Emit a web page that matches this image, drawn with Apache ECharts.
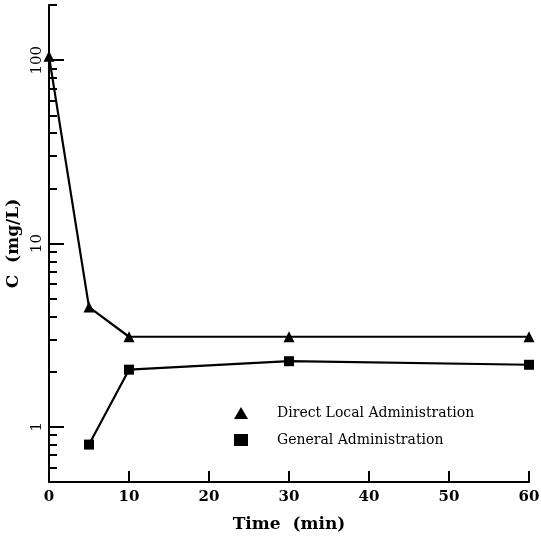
<!DOCTYPE html>
<html><head><meta charset="utf-8">
<script src="https://cdn.jsdelivr.net/npm/echarts@6/dist/echarts.min.js"></script>
<style>html,body{margin:0;padding:0;background:#fff}#c{width:541px;height:537px}</style>
</head><body><div id="c"></div>
<script>
const timeTicks = [0, 10, 20, 30, 40, 50, 60];
const majorTicks = [1, 10, 100];
const minorTicks = [0.6, 0.7, 0.8, 0.9, 2, 3, 4, 5, 6, 7, 8, 9, 20, 30, 40, 50, 60, 70, 80, 90, 200];
const directTime = [0, 5, 10, 30, 60];
const directConc = [105, 4.5, 3.1, 3.1, 3.1];
const generalTime = [5, 10, 30, 60];
const generalConc = [0.8, 2.05, 2.28, 2.18];
const seriesNames = ['Direct Local Administration', 'General Administration'];

const font = '"DejaVu Serif", "Liberation Serif", serif';
const chart = echarts.init(document.getElementById('c'));
const yBase = {
  type: 'log', min: 0.5, max: 200, logBase: 10,
  splitLine: { show: false }, minorTick: { show: false }
};
chart.setOption({
  animation: false,
  backgroundColor: '#fff',
  grid: { left: 49, right: 12, top: 5, bottom: 55, containLabel: false, outerBoundsMode: 'none' },
  legend: {
    orient: 'vertical', left: 229, top: 401, itemGap: 13,
    itemWidth: 14, itemHeight: 12,
    textStyle: { fontFamily: font, fontSize: 14, color: '#000', padding: [0, 0, 0, 24] },
    data: [{ name: seriesNames[0], icon: 'triangle' }, { name: seriesNames[1], icon: 'rect' }]
  },
  xAxis: {
    type: 'value', min: 0, max: 60, interval: 10,
    name: 'Time  (min)', nameLocation: 'middle', nameGap: 34,
    nameTextStyle: { fontFamily: font, fontWeight: 'bold', fontSize: 17, color: '#000' },
    axisLine: { lineStyle: { color: '#000', width: 2 } },
    axisTick: { inside: true, length: 11, lineStyle: { color: '#000', width: 2 } },
    axisLabel: { fontFamily: font, fontWeight: 'bold', fontSize: 15, color: '#000', margin: 8 },
    splitLine: { show: false }
  },
  yAxis: [
    Object.assign({}, yBase, {
      name: 'C  (mg/L)', nameLocation: 'middle', nameGap: 26, nameRotate: 90,
      nameTextStyle: { fontFamily: font, fontWeight: 'bold', fontSize: 17, color: '#000' },
      axisLine: { show: true, lineStyle: { color: '#000', width: 2 } },
      axisTick: { inside: true, length: 15, customValues: majorTicks, lineStyle: { color: '#000', width: 2 } },
      axisLabel: { customValues: majorTicks, rotate: 90, fontFamily: font, fontSize: 15, color: '#000', margin: 4 }
    }),
    Object.assign({}, yBase, {
      position: 'left',
      axisLine: { show: false },
      axisTick: { inside: true, length: 8, customValues: minorTicks, lineStyle: { color: '#000', width: 2 } },
      axisLabel: { show: false }
    })
  ],
  series: [
    {
      name: seriesNames[0], type: 'line', symbol: 'triangle', symbolSize: 11,
      data: directTime.map((t, i) => [t, directConc[i]]),
      lineStyle: { color: '#000', width: 2.2 }, itemStyle: { color: '#000' }
    },
    {
      name: seriesNames[1], type: 'line', symbol: 'rect', symbolSize: 10,
      data: generalTime.map((t, i) => [t, generalConc[i]]),
      lineStyle: { color: '#000', width: 2.2 }, itemStyle: { color: '#000' }
    }
  ]
});
</script></body></html>
